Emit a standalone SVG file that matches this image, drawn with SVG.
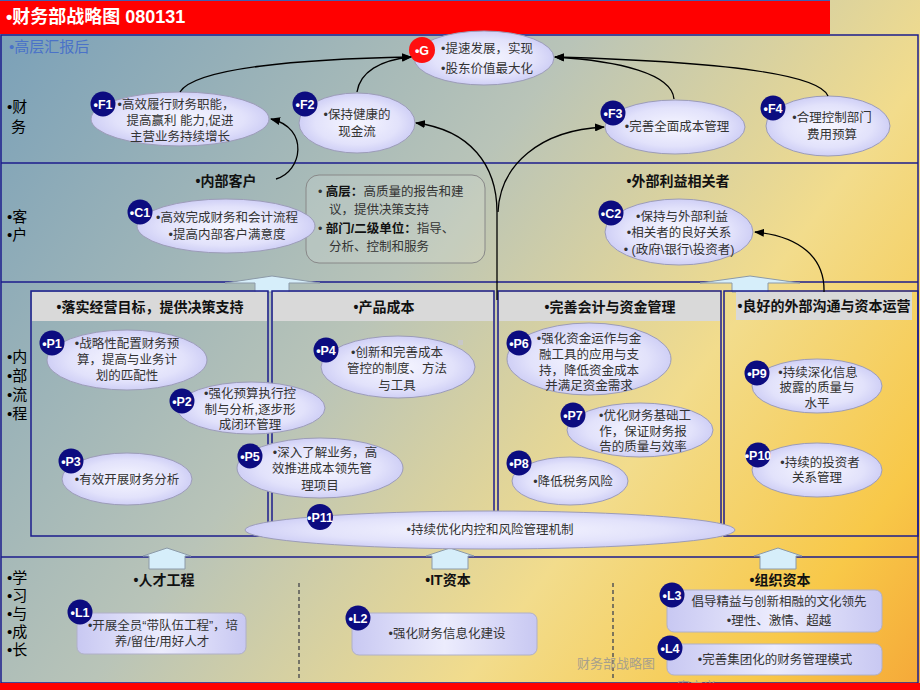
<svg xmlns="http://www.w3.org/2000/svg" width="920" height="690" viewBox="0 0 920 690">
<defs>
<linearGradient id="bg" x1="0" y1="0" x2="920" y2="690" gradientUnits="userSpaceOnUse">
<stop offset="0" stop-color="#789fb8"/>
<stop offset="0.42" stop-color="#b9c4b8"/>
<stop offset="0.68" stop-color="#f2dc8c"/>
<stop offset="0.88" stop-color="#f8c848"/>
<stop offset="1" stop-color="#f5a838"/>
</linearGradient>
<radialGradient id="eg" cx="0.5" cy="0.5" r="0.6">
<stop offset="0" stop-color="#f6f6ff"/>
<stop offset="0.6" stop-color="#e2e2fb"/>
<stop offset="1" stop-color="#c2c2f2"/>
</radialGradient>
<linearGradient id="rg" x1="0" y1="0" x2="1" y2="0">
<stop offset="0" stop-color="#c8c8f2"/>
<stop offset="0.5" stop-color="#ececfd"/>
<stop offset="1" stop-color="#c8c8f2"/>
</linearGradient>
<marker id="ah" markerWidth="10" markerHeight="8" refX="9" refY="4" orient="auto" markerUnits="userSpaceOnUse">
<path d="M0,0 L10,4 L0,8 z" fill="#000"/>
</marker>
<style>
.el{fill:url(#eg);stroke:#9c9cb8;stroke-width:1}
.rr{fill:url(#rg);stroke:#b0b0c8;stroke-width:1}
.bd{fill:#0c0c80}
.bt{font-family:"Liberation Sans",Arial,sans-serif;font-weight:bold;font-size:12.5px;fill:#fff;text-anchor:middle}
.t{font-family:"Liberation Sans","Noto Sans CJK SC",sans-serif;font-size:12.5px;fill:#333;text-anchor:middle}
.rl{font-family:"Liberation Sans","Noto Sans CJK SC",sans-serif;font-size:15px;fill:#000}
.h{font-family:"Liberation Sans","Noto Sans CJK SC",sans-serif;font-size:14px;font-weight:bold;fill:#111;text-anchor:middle}
.bx{font-family:"Liberation Sans","Noto Sans CJK SC",sans-serif;font-size:12.5px;fill:#333}
.ln{fill:none;stroke:#1c1c8c;stroke-width:1.5}
.sec{fill:none;stroke:#1c1c8c;stroke-width:1.5}
.hb{fill:#d9d9d9}
.ua{fill:#d6eefa;stroke:#8c9aa8;stroke-width:1}
.cn{fill:none;stroke:#000;stroke-width:1.3;marker-end:url(#ah)}
.cl{fill:none;stroke:#000;stroke-width:1.3}
</style>
</defs>

<rect x="0" y="0" width="920" height="690" fill="url(#bg)"/>

<g id="title">
<rect x="0" y="0" width="830" height="34" fill="#ff0000"/>
<line x1="0" y1="0.5" x2="830" y2="0.5" stroke="#4060b0" stroke-width="1"/>
<text x="6" y="23" font-family="'Liberation Sans','Noto Sans CJK SC',sans-serif" font-size="18" font-weight="bold" fill="#fff">•财务部战略图 080131</text>
</g>

<g id="frame">
<rect x="1" y="35" width="917" height="648" class="ln"/>
<line x1="1" y1="163" x2="918" y2="163" class="ln"/>
<line x1="1" y1="282" x2="918" y2="282" class="ln"/>
<line x1="1" y1="557" x2="918" y2="557" class="ln"/>
<line x1="299" y1="583" x2="299" y2="680" stroke="#555" stroke-width="1.5" stroke-dasharray="4,3"/>
<line x1="613" y1="583" x2="613" y2="680" stroke="#555" stroke-width="1.5" stroke-dasharray="4,3"/>
</g>

<g id="labels">
<text x="9" y="52" font-family="'Liberation Sans','Noto Sans CJK SC',sans-serif" font-size="15" fill="#4a72c8">•高层汇报后</text>
<text x="7" y="112" class="rl">•财</text>
<text x="11" y="132" class="rl">务</text>
<text x="7" y="222" class="rl">•客</text>
<text x="7" y="240" class="rl">•户</text>
<text x="7" y="362" class="rl">•内</text>
<text x="7" y="381" class="rl">•部</text>
<text x="7" y="400" class="rl">•流</text>
<text x="7" y="419" class="rl">•程</text>
<text x="7" y="583" class="rl">•学</text>
<text x="7" y="601" class="rl">•习</text>
<text x="7" y="619" class="rl">•与</text>
<text x="7" y="637" class="rl">•成</text>
<text x="7" y="655" class="rl">•长</text>
<text x="226" y="186" class="h" font-size="13.5">•内部客户</text>
<text x="678" y="186" class="h" font-size="13.5">•外部利益相关者</text>
<text x="164" y="585" class="h" font-size="13.5">•人才工程</text>
<text x="448" y="585" class="h" font-size="13.5">•IT资本</text>
<text x="780" y="585" class="h" font-size="13.5">•组织资本</text>
<text x="577" y="668" font-family="'Noto Sans CJK SC',sans-serif" font-size="13" fill="#a8a08c">财务部战略图</text>
<text x="677" y="691" font-family="'Noto Sans CJK SC',sans-serif" font-size="13" fill="#a8a08c">案定义</text>
</g>

<g id="uparrows">
<polygon class="ua" points="272,276 320,283 289,283 289,292 255,292 255,283 225,283"/>
<polygon class="ua" points="750,276 800,283 768,283 768,292 732,292 732,283 700,283"/>
<polygon class="ua" points="167,548 191,556 185,556 185,569 149,569 149,556 143,556"/>
<polygon class="ua" points="450,548 474,556 468,556 468,569 432,569 432,556 426,556"/>
<polygon class="ua" points="778,548 802,556 796,556 796,569 760,569 760,556 754,556"/>
</g>

<g id="sections">
<rect x="31" y="291" width="237" height="245" class="sec"/>
<rect x="32" y="292" width="235" height="29" class="hb"/>
<text x="150" y="312" class="h">•落实经营目标，提供决策支持</text>
<rect x="272" y="291" width="222" height="245" class="sec"/>
<rect x="273" y="292" width="220" height="29" class="hb"/>
<text x="384" y="312" class="h">•产品成本</text>
<rect x="498" y="291" width="223" height="245" class="sec"/>
<rect x="499" y="292" width="221" height="29" class="hb"/>
<text x="610" y="312" class="h">•完善会计与资金管理</text>
<rect x="724" y="291" width="194" height="245" class="sec"/>
<rect x="736" y="292" width="176" height="28" class="hb"/>
<text x="824" y="311" class="h">•良好的外部沟通与资本运营</text>
<rect x="458" y="340" width="5" height="5" fill="#c8c8c8"/>
</g>

<g id="infobox">
<rect x="306" y="175" width="179" height="88" rx="13" fill="#ffffff" fill-opacity="0.12" stroke="#888" stroke-width="1"/>
<text x="318" y="196" class="bx">•  <tspan font-weight="bold" fill="#111">高层：</tspan>高质量的报告和建</text>
<text x="329" y="214" class="bx">议，提供决策支持</text>
<text x="318" y="233" class="bx">•  <tspan font-weight="bold" fill="#111">部门/二级单位：</tspan>指导、</text>
<text x="329" y="251" class="bx">分析、控制和服务</text>
</g>

<g id="G">
<ellipse cx="484" cy="58" rx="70" ry="27" class="el"/>
<circle cx="422" cy="50" r="13" fill="#ff1010"/>
<text x="422" y="55" class="bt">•G</text>
<text x="487" y="53" class="t" font-size="13.5" fill="#222">•提速发展，实现</text>
<text x="487" y="73" class="t" font-size="13.5" fill="#222">•股东价值最大化</text>
</g>

<g id="F1">
<ellipse cx="180" cy="119" rx="89" ry="27" class="el"/>
<circle cx="103" cy="104" r="12.5" class="bd"/>
<text x="103" y="109" class="bt">•F1</text>
<text x="176" y="109" class="t">•高效履行财务职能，</text>
<text x="180" y="125" class="t">提高赢利 能力,促进</text>
<text x="180" y="141" class="t">主营业务持续增长</text>
</g>

<g id="F2">
<ellipse cx="357" cy="123" rx="58" ry="30" class="el"/>
<circle cx="305" cy="104" r="12.5" class="bd"/>
<text x="305" y="109" class="bt">•F2</text>
<text x="357" y="119" class="t">•保持健康的</text>
<text x="357" y="136" class="t">现金流</text>
</g>

<g id="F3">
<ellipse cx="675" cy="127" rx="70" ry="27" class="el"/>
<circle cx="613" cy="113" r="12.5" class="bd"/>
<text x="677" y="131" class="t">•完善全面成本管理</text>
<text x="613" y="118" class="bt">•F3</text>
</g>

<g id="F4">
<ellipse cx="828" cy="126" rx="62" ry="30" class="el"/>
<circle cx="773" cy="108" r="12.5" class="bd"/>
<text x="773" y="113" class="bt">•F4</text>
<text x="832" y="122" class="t">•合理控制部门</text>
<text x="832" y="139" class="t">费用预算</text>
</g>

<g id="C1">
<ellipse cx="226" cy="226" rx="89" ry="27" class="el"/>
<circle cx="140" cy="212" r="12.5" class="bd"/>
<text x="140" y="217" class="bt">•C1</text>
<text x="227" y="222" class="t">•高效完成财务和会计流程</text>
<text x="227" y="239" class="t">•提高内部客户满意度</text>
</g>

<g id="C2">
<ellipse cx="679" cy="232" rx="74" ry="33" class="el"/>
<circle cx="611" cy="213" r="12.5" class="bd"/>
<text x="611" y="218" class="bt">•C2</text>
<text x="682" y="221" class="t">•保持与外部利益</text>
<text x="679" y="237" class="t">•相关者的良好关系</text>
<text x="679" y="254" class="t" font-size="11.5">•  (政府\银行\投资者)</text>
</g>

<g id="P1">
<ellipse cx="127" cy="360" rx="80" ry="30" class="el"/>
<circle cx="52" cy="343" r="12.5" class="bd"/>
<text x="52" y="348" class="bt">•P1</text>
<text x="127" y="348" class="t">•战略性配置财务预</text>
<text x="127" y="364" class="t">算，提高与业务计</text>
<text x="127" y="380" class="t">划的匹配性</text>
</g>

<g id="P2">
<ellipse cx="251" cy="408" rx="74" ry="26" class="el"/>
<circle cx="182" cy="401" r="12.5" class="bd"/>
<text x="182" y="406" class="bt">•P2</text>
<text x="250" y="398" class="t">•强化预算执行控</text>
<text x="250" y="414" class="t">制与分析,逐步形</text>
<text x="250" y="429" class="t">成闭环管理</text>
</g>

<g id="P3">
<ellipse cx="127" cy="479" rx="65" ry="26" class="el"/>
<circle cx="71" cy="461" r="12.5" class="bd"/>
<text x="71" y="466" class="bt">•P3</text>
<text x="127" y="484" class="t">•有效开展财务分析</text>
</g>

<g id="P4">
<ellipse cx="398" cy="367" rx="77" ry="31" class="el"/>
<circle cx="326" cy="350" r="12.5" class="bd"/>
<text x="326" y="355" class="bt">•P4</text>
<text x="397" y="357" class="t">•创新和完善成本</text>
<text x="397" y="373" class="t">管控的制度、方法</text>
<text x="397" y="390" class="t">与工具</text>
</g>

<g id="P5">
<ellipse cx="320" cy="468" rx="83" ry="30" class="el"/>
<circle cx="250" cy="456" r="12.5" class="bd"/>
<text x="250" y="461" class="bt">•P5</text>
<text x="325" y="457" class="t">•深入了解业务，高</text>
<text x="322" y="473" class="t">效推进成本领先管</text>
<text x="320" y="490" class="t">理项目</text>
</g>

<g id="P6">
<ellipse cx="589" cy="359" rx="82" ry="36" class="el"/>
<circle cx="519" cy="343" r="12.5" class="bd"/>
<text x="519" y="348" class="bt">•P6</text>
<text x="589" y="343" class="t">•强化资金运作与金</text>
<text x="589" y="359" class="t">融工具的应用与支</text>
<text x="589" y="375" class="t">持，降低资金成本</text>
<text x="589" y="390" class="t">并满足资金需求</text>
</g>

<g id="P7">
<ellipse cx="640" cy="430" rx="73" ry="27" class="el"/>
<circle cx="573" cy="415" r="12.5" class="bd"/>
<text x="573" y="420" class="bt">•P7</text>
<text x="645" y="420" class="t">•优化财务基础工</text>
<text x="643" y="436" class="t">作，保证财务报</text>
<text x="643" y="451" class="t">告的质量与效率</text>
</g>

<g id="P8">
<ellipse cx="570" cy="481" rx="58" ry="24" class="el"/>
<circle cx="519" cy="463" r="12.5" class="bd"/>
<text x="519" y="468" class="bt">•P8</text>
<text x="573" y="486" class="t">•降低税务风险</text>
</g>

<g id="P9">
<ellipse cx="817" cy="386" rx="65" ry="27" class="el"/>
<circle cx="757" cy="373" r="12.5" class="bd"/>
<text x="757" y="378" class="bt">•P9</text>
<text x="818" y="377" class="t">•持续深化信息</text>
<text x="817" y="392" class="t">披露的质量与</text>
<text x="817" y="408" class="t">水平</text>
</g>

<g id="P10">
<ellipse cx="817" cy="470" rx="65" ry="27" class="el"/>
<circle cx="758" cy="455" r="12.5" class="bd"/>
<text x="758" y="460" class="bt">•P10</text>
<text x="820" y="467" class="t">•持续的投资者</text>
<text x="817" y="482" class="t">关系管理</text>
</g>

<g id="P11">
<ellipse cx="490" cy="530" rx="245" ry="19" class="el"/>
<circle cx="320" cy="517" r="13" class="bd"/>
<text x="320" y="522" class="bt">•P11</text>
<text x="490" y="534" class="t">•持续优化内控和风险管理机制</text>
</g>

<g id="L1">
<rect x="77" y="613" width="169" height="41" rx="7" class="rr"/>
<circle cx="80" cy="612" r="12.5" class="bd"/>
<text x="80" y="617" class="bt">•L1</text>
<text x="163" y="630" class="t">•开展全员“带队伍工程”，培</text>
<text x="162" y="646" class="t">养/留住/用好人才</text>
</g>

<g id="L2">
<rect x="352" y="613" width="185" height="42" rx="7" class="rr"/>
<circle cx="358" cy="618" r="12.5" class="bd"/>
<text x="358" y="623" class="bt">•L2</text>
<text x="447" y="638" class="t">•强化财务信息化建设</text>
</g>

<g id="L3">
<rect x="667" y="590" width="215" height="42" rx="7" class="rr"/>
<circle cx="672" cy="595" r="12.5" class="bd"/>
<text x="672" y="600" class="bt">•L3</text>
<text x="779" y="606" class="t">倡导精益与创新相融的文化领先</text>
<text x="779" y="625" class="t">•理性、激情、超越</text>
</g>

<g id="L4">
<rect x="667" y="644" width="215" height="31" rx="7" class="rr"/>
<circle cx="670" cy="648" r="12.5" class="bd"/>
<text x="670" y="653" class="bt">•L4</text>
<text x="775" y="664" class="t">•完善集团化的财务管理模式</text>
</g>

<g id="connectors">
<path class="cn" d="M180,92 C195,68 300,59 411,57"/>
<path class="cn" d="M357,92 C360,72 380,60 411,57"/>
<path class="cn" d="M674,99 C672,74 620,61 555,57"/>
<path class="cn" d="M828,96 C818,72 700,61 555,57"/>
<path class="cn" d="M276,179 C302,172 310,128 271,119"/>
<path class="cl" d="M497,300 L497,212"/>
<path class="cn" d="M497,212 C497,165 470,130 416,123"/>
<path class="cn" d="M498,212 C500,165 540,130 604,127"/>
<path class="cn" d="M824,292 C825,258 800,236 755,232"/>
</g>

<rect x="0" y="683" width="920" height="7" fill="#ff0000"/>
</svg>
